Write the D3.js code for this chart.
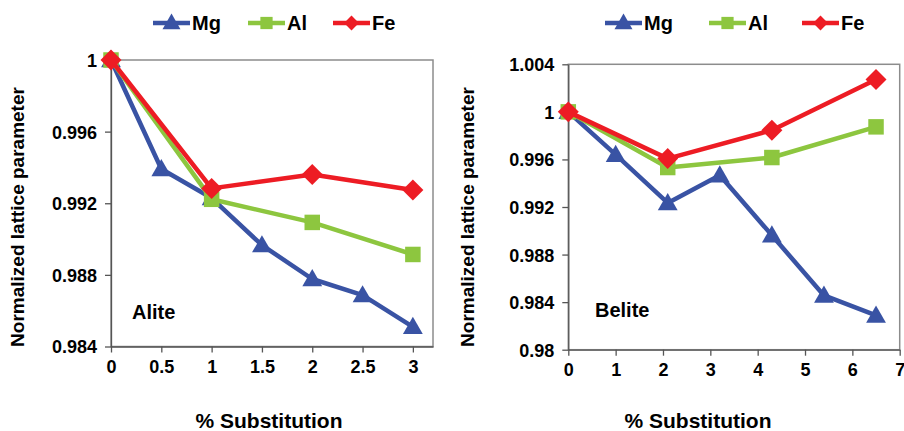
<!DOCTYPE html>
<html>
<head>
<meta charset="utf-8">
<script src="https://cdn.jsdelivr.net/npm/d3@7"></script>
<style>
  body { margin: 0; background: #fff; }
  svg { display: block; }
  text { font-family: Arial, "Liberation Sans", sans-serif; font-weight: bold; fill: #000; }
</style>
</head>
<body>
<svg id="chart" width="904" height="431"></svg>
<script>
// Alite panel
var aliteMgX = [0, 0.5, 1, 1.5, 2, 2.5, 3];
var aliteMgY = [1, 0.99391, 0.99229, 0.98966, 0.98777, 0.98687, 0.9851];
var aliteAlX = [0, 1, 2, 3];
var aliteAlY = [1, 0.99222, 0.99093, 0.98914];
var aliteFeX = [0, 1, 2, 3];
var aliteFeY = [1, 0.99283, 0.99361, 0.99274];
var aliteXTicks = [0, 0.5, 1, 1.5, 2, 2.5, 3];
var aliteYTicks = [0.984, 0.988, 0.992, 0.996, 1];

// Belite panel
var beliteMgX = [0, 1, 2.1, 3.2, 4.3, 5.4, 6.5];
var beliteMgY = [1, 0.9964, 0.99234, 0.99467, 0.98962, 0.98456, 0.98288];
var beliteAlX = [0, 2.1, 4.3, 6.5];
var beliteAlY = [1, 0.99532, 0.99616, 0.99874];
var beliteFeX = [0, 2.1, 4.3, 6.5];
var beliteFeY = [1, 0.99607, 0.99846, 1.00273];
var beliteXTicks = [0, 1, 2, 3, 4, 5, 6, 7];
var beliteYTicks = [0.98, 0.984, 0.988, 0.992, 0.996, 1, 1.004];

var seriesNames = ["Mg", "Al", "Fe"];
var colors = { Mg: "#3953a4", Al: "#8dc63f", Fe: "#ed1c24" };
var symbols = { Mg: d3.symbolTriangle, Al: d3.symbolSquare, Fe: d3.symbolSquare };
var rot = { Mg: 0, Al: 0, Fe: 45 };
var symSize = { Mg: 170, Al: 240, Fe: 220 };
var legSize = { Mg: 140, Al: 150, Fe: 110 };
var FONT = "Arial, 'Liberation Sans', sans-serif";

var svg = d3.select("#chart");

function fmt(d) { return String(+d.toFixed(3)); }

function panel(o) {
  var g = svg.append("g");
  var x = d3.scaleLinear().domain(o.xDom).range([o.left, o.right]);
  var y = d3.scaleLinear().domain(o.yDom).range([o.bottom, o.top]);

  // plot border (gray)
  g.append("rect").attr("x", o.left).attr("y", o.top)
    .attr("width", o.right - o.left).attr("height", o.bottom - o.top)
    .attr("fill", "none").attr("stroke", "#8c8c8c").attr("stroke-width", 1.5);

  var xAxis = g.append("g").attr("transform", "translate(0," + o.bottom + ")")
    .call(d3.axisBottom(x).tickValues(o.xTicks).tickSize(6).tickSizeOuter(0).tickFormat(fmt));
  var yAxis = g.append("g").attr("transform", "translate(" + o.left + ",0)")
    .call(d3.axisLeft(y).tickValues(o.yTicks).tickSize(6).tickSizeOuter(0).tickFormat(fmt));
  [xAxis, yAxis].forEach(a => {
    a.selectAll("path").attr("stroke", "#555").attr("stroke-width", 1.3);
    a.selectAll("line").attr("stroke", "#555").attr("stroke-width", 1.3);
    a.selectAll("text").style("font-size", "18px").style("font-weight", "bold")
      .style("font-family", FONT).attr("fill", "#000");
  });
  xAxis.selectAll("text").attr("y", 26).attr("dy", 0);
  yAxis.selectAll("text").attr("x", -14).attr("dy", "0.36em");

  var line = d3.line().x(d => x(d[0])).y(d => y(d[1]));
  o.series.forEach(s => {
    var pts = s.xs.map((v, i) => [v, s.ys[i]]);
    g.append("path").datum(pts).attr("d", line)
      .attr("fill", "none").attr("stroke", colors[s.name]).attr("stroke-width", 4.5)
      .attr("stroke-linejoin", "round");
    g.selectAll(null).data(pts).enter().append("path")
      .attr("d", d3.symbol().type(symbols[s.name]).size(symSize[s.name]))
      .attr("transform", d => "translate(" + x(d[0]) + "," + (y(d[1]) + (s.name === "Mg" ? 1.5 : 0)) + ") rotate(" + rot[s.name] + ")")
      .attr("fill", colors[s.name]);
  });

  // label
  g.append("text").attr("x", o.labelX).attr("y", o.labelY).style("font-size", "20px").text(o.label);

  // y title
  g.append("text").attr("transform", "translate(" + o.yTitleX + "," + o.yTitleY + ") rotate(-90)")
    .attr("text-anchor", "middle").style("font-size", "19px").text("Normalized lattice parameter");
  // x title
  g.append("text").attr("x", o.xTitleX).attr("y", 428)
    .attr("text-anchor", "middle").style("font-size", "21px").text("% Substitution");

  // legend
  o.legendX.forEach((lx, i) => {
    var n = seriesNames[i];
    var lg = g.append("g");
    lg.append("line").attr("x1", lx).attr("x2", lx + 37).attr("y1", 23).attr("y2", 23)
      .attr("stroke", colors[n]).attr("stroke-width", 4.5);
    lg.append("path").attr("d", d3.symbol().type(symbols[n]).size(legSize[n]))
      .attr("transform", "translate(" + (lx + 18.5) + "," + (n === "Mg" ? 24 : 23) + ") rotate(" + rot[n] + ")")
      .attr("fill", colors[n]);
    lg.append("text").attr("x", lx + 39).attr("y", 30).style("font-size", "20px").text(n);
  });
}

panel({
  left: 111, right: 433, top: 60, bottom: 346.5,
  xDom: [0, 3.2], yDom: [0.984, 1],
  xTicks: aliteXTicks, yTicks: aliteYTicks,
  series: [
    { name: "Mg", xs: aliteMgX, ys: aliteMgY },
    { name: "Al", xs: aliteAlX, ys: aliteAlY },
    { name: "Fe", xs: aliteFeX, ys: aliteFeY }
  ],
  label: "Alite", labelX: 132, labelY: 319,
  yTitleX: 24, yTitleY: 217, xTitleX: 269,
  legendX: [153, 248, 333]
});

panel({
  left: 568.3, right: 899.7, top: 64.3, bottom: 349.7,
  xDom: [0, 7], yDom: [0.98, 1.004],
  xTicks: beliteXTicks, yTicks: beliteYTicks,
  series: [
    { name: "Mg", xs: beliteMgX, ys: beliteMgY },
    { name: "Al", xs: beliteAlX, ys: beliteAlY },
    { name: "Fe", xs: beliteFeX, ys: beliteFeY }
  ],
  label: "Belite", labelX: 595, labelY: 317,
  yTitleX: 474, yTitleY: 217, xTitleX: 698,
  legendX: [605, 709, 802]
});
</script>
</body>
</html>
